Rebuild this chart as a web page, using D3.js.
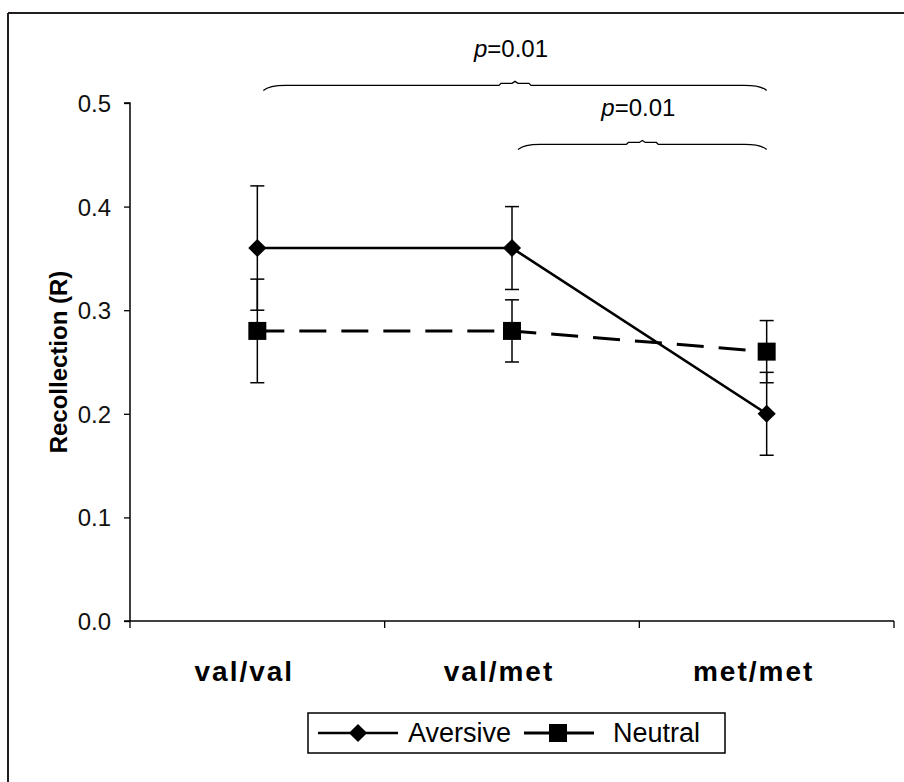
<!DOCTYPE html>
<html>
<head>
<meta charset="utf-8">
<script src="https://cdn.jsdelivr.net/npm/d3@7"></script>
<style>
  body { margin: 0; background: #fff; }
  svg { display: block; font-family: "Liberation Sans", Arial, sans-serif; }
</style>
</head>
<body>
<div id="chart"></div>
<script>
var categories = ["val/val", "val/met", "met/met"];
var aversive = [0.36, 0.36, 0.20];
var aversiveErr = [0.06, 0.04, 0.04];
var neutral = [0.28, 0.28, 0.26];
var neutralErr = [0.05, 0.03, 0.03];
var yTicks = [0, 0.1, 0.2, 0.3, 0.4, 0.5];
var brackets = [
  { from: "val/val", to: "met/met", level: 0.517, label: "0.01" },
  { from: "val/met", to: "met/met", level: 0.46, label: "0.01" }
];

var width = 904, height = 782;
var svg = d3.select("#chart").append("svg")
  .attr("width", width)
  .attr("height", height);

// frame (top and left only, as in the scan)
svg.append("line").attr("x1", 8).attr("y1", 13).attr("x2", width).attr("y2", 13)
  .attr("stroke", "#231f20").attr("stroke-width", 2);
svg.append("line").attr("x1", 8).attr("y1", 13).attr("x2", 8).attr("y2", height)
  .attr("stroke", "#231f20").attr("stroke-width", 2);

var x = d3.scaleBand().domain(categories).range([130, 894]).padding(0);
var y = d3.scaleLinear().domain([0, 0.5]).range([621, 103]);
var cx = function (c) { return x(c) + x.bandwidth() / 2; };

// y axis
var yAxis = svg.append("g")
  .attr("transform", "translate(130,0)")
  .call(d3.axisLeft(y).tickValues(yTicks).tickFormat(d3.format(".1f")).tickSize(6).tickPadding(13));
yAxis.select(".domain").attr("stroke-width", 1.5).attr("d", "M-6," + y(0.5) + "H0V" + y(0));
yAxis.selectAll(".tick line").attr("stroke-width", 1.3);
yAxis.selectAll("text").attr("font-size", 24)
  .attr("fill", "#111").attr("dy", "0.35em");

// x axis
var xAxis = svg.append("g")
  .attr("transform", "translate(0," + y(0) + ")");
xAxis.append("line").attr("x1", 124).attr("x2", 894).attr("y1", 0).attr("y2", 0)
  .attr("stroke", "#000").attr("stroke-width", 1.5);
var bounds = categories.map(function (c) { return x(c); }).concat([x.range()[1]]);
xAxis.selectAll(".xt").data(bounds).enter().append("line")
  .attr("x1", function (d) { return d; }).attr("x2", function (d) { return d; })
  .attr("y1", 0).attr("y2", 7).attr("stroke", "#000").attr("stroke-width", 1.3);
xAxis.selectAll(".xl").data(categories).enter().append("text")
  .attr("x", function (d) { return cx(d) - 13; })
  .attr("y", 60)
  .attr("text-anchor", "middle")
  .attr("font-size", 28).attr("font-weight", "bold").attr("letter-spacing", 2)
  .text(function (d) { return d; });

// y label
svg.append("text")
  .attr("transform", "translate(67," + y(0.25) + ") rotate(-90)")
  .attr("text-anchor", "middle")
  .attr("font-size", 24).attr("font-weight", "bold")
  .text("Recollection (R)");

// error bars
function errorBars(vals, errs) {
  var g = svg.append("g").attr("stroke", "#000").attr("stroke-width", 1.5);
  categories.forEach(function (c, i) {
    var px = cx(c), hi = y(vals[i] + errs[i]), lo = y(vals[i] - errs[i]);
    g.append("line").attr("x1", px).attr("x2", px).attr("y1", hi).attr("y2", lo);
    g.append("line").attr("x1", px - 7).attr("x2", px + 7).attr("y1", hi).attr("y2", hi);
    g.append("line").attr("x1", px - 7).attr("x2", px + 7).attr("y1", lo).attr("y2", lo);
  });
}
errorBars(neutral, neutralErr);
errorBars(aversive, aversiveErr);

var line = d3.line()
  .x(function (d, i) { return cx(categories[i]); })
  .y(function (d) { return y(d); });

svg.append("path").datum(neutral)
  .attr("d", line).attr("fill", "none").attr("stroke", "#000")
  .attr("stroke-width", 3).attr("stroke-dasharray", "27,15");
svg.append("path").datum(aversive)
  .attr("d", line).attr("fill", "none").attr("stroke", "#000")
  .attr("stroke-width", 2.6);

var diamond = d3.symbol().type(d3.symbolDiamond2).size(210);
var square = d3.symbol().type(d3.symbolSquare).size(324);

svg.selectAll(".sq").data(neutral).enter().append("path")
  .attr("d", square)
  .attr("transform", function (d, i) { return "translate(" + cx(categories[i]) + "," + y(d) + ")"; })
  .attr("fill", "#000");
svg.selectAll(".dm").data(aversive).enter().append("path")
  .attr("d", diamond)
  .attr("transform", function (d, i) { return "translate(" + cx(categories[i]) + "," + y(d) + ")"; })
  .attr("fill", "#000");

// significance brackets
brackets.forEach(function (b) {
  var x0 = cx(b.from) + 6, x1 = cx(b.to), xm = (x0 + x1) / 2, yy = y(b.level);
  var p = d3.path();
  p.moveTo(x0, yy + 5);
  p.quadraticCurveTo(x0 + 6, yy, x0 + 22, yy);
  p.lineTo(xm - 16, yy);
  p.lineTo(xm - 14, yy - 2);
  p.lineTo(xm - 3, yy - 2);
  p.lineTo(xm, yy - 4);
  p.lineTo(xm + 3, yy - 2);
  p.lineTo(xm + 14, yy - 2);
  p.lineTo(xm + 16, yy);
  p.lineTo(x1 - 22, yy);
  p.quadraticCurveTo(x1 - 6, yy, x1, yy + 5);
  svg.append("path").attr("d", p.toString()).attr("fill", "none")
    .attr("stroke", "#000").attr("stroke-width", 1.3);
  var t = svg.append("text")
    .attr("x", xm - 4).attr("y", yy - 28)
    .attr("text-anchor", "middle").attr("font-size", 24);
  t.append("tspan").attr("font-style", "italic").text("p");
  t.append("tspan").text("=" + b.label);
});

// legend
var lg = svg.append("g").attr("transform", "translate(308,713)");
lg.append("rect").attr("width", 417).attr("height", 40)
  .attr("fill", "#fff").attr("stroke", "#000").attr("stroke-width", 1.5);
lg.append("line").attr("x1", 10).attr("x2", 90).attr("y1", 20).attr("y2", 20)
  .attr("stroke", "#000").attr("stroke-width", 2.6);
lg.append("path").attr("d", diamond).attr("transform", "translate(50,20)");
lg.append("text").attr("x", 100).attr("y", 29).attr("font-size", 27).text("Aversive");
lg.append("line").attr("x1", 216).attr("x2", 286).attr("y1", 20).attr("y2", 20)
  .attr("stroke", "#000").attr("stroke-width", 3);
lg.append("path").attr("d", square).attr("transform", "translate(250,20)");
lg.append("text").attr("x", 305).attr("y", 29).attr("font-size", 27).text("Neutral");
</script>
</body>
</html>
